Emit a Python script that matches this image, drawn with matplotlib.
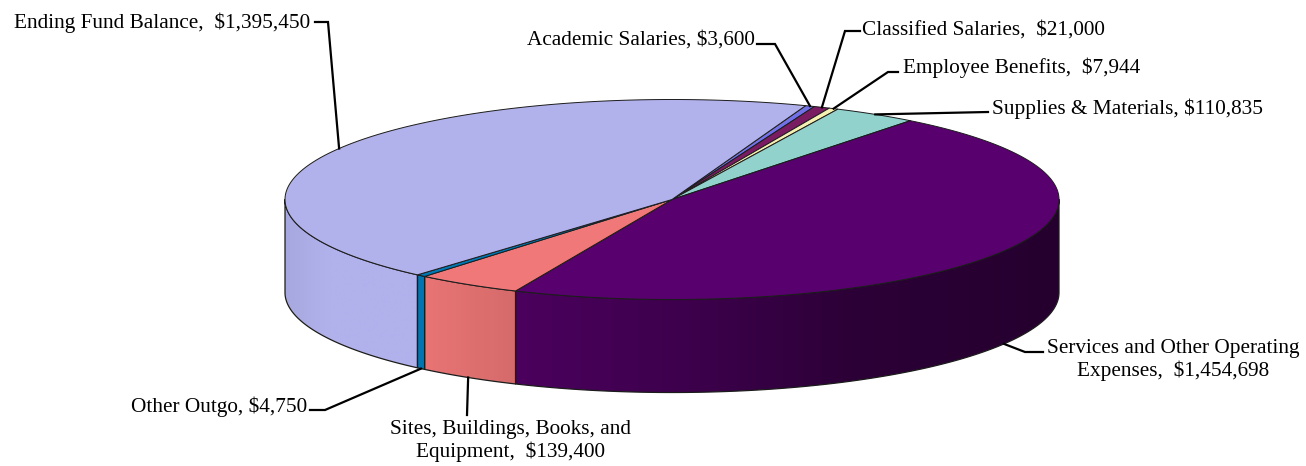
import matplotlib
matplotlib.use("Agg")
import matplotlib.pyplot as plt
import numpy as np
from matplotlib.patches import Polygon

names = ["Academic Salaries, $3,600", "Classified Salaries,  $21,000", "Employee Benefits,  $7,944",
         "Supplies & Materials, $110,835", "Services and Other Operating\nExpenses,  $1,454,698",
         "Sites, Buildings, Books, and\nEquipment,  $139,400", "Other Outgo, $4,750",
         "Ending Fund Balance,  $1,395,450"]
values = [3600, 21000, 7944, 110835, 1454698, 139400, 4750, 1395450]
colors = ["#7272e6", "#7a1c62", "#f6f0b2", "#92d2cd", "#58006e", "#f07878", "#0078b4", "#b1b1ec"]

# leader elbows and text placement, in pixels
elbows = [[(775, 44), (757, 44)], [(845, 31), (860, 31)], [(888, 72), (898, 72)], [(988, 112)],
          [(1025, 352), (1043, 352)], [(467, 415)], [(325, 410), (310, 410)], [(328, 22), (315, 22)]]
text_pos = [(755, 40, "right"), (862, 30, "left"), (903, 68, "left"), (992, 109, "left"),
            (1173, 360, "center"), (510, 441, "center"), (307, 407, "right"), (310, 23, "right")]

cx, cy, rx, ry, depth = 672, 199.5, 387, 100, 93
start = 20.2
min_sweep = 1.4  # very thin slices stay visible, like in the original

plt.rcParams["font.family"] = ["Liberation Serif", "DejaVu Serif"]
fig = plt.figure(figsize=(13.06, 4.66), dpi=100)
ax = fig.add_axes([0, 0, 1, 1])
ax.set_xlim(0, 1306)
ax.set_ylim(466, 0)
ax.axis("off")


def rim(deg, drop=0):
    t = np.radians(deg)
    return cx + rx * np.sin(t), cy - ry * np.cos(t) + drop


def shade(x):
    return np.interp(x, [285, 330, 417, 424, 514, 516, 700, 850, 1059],
                     [.95, 1, 1, .97, .89, .85, .68, .5, .42])


sweeps = np.maximum(np.array(values) / sum(values) * 360, min_sweep)
sweeps = sweeps / sweeps.sum() * 360
edges = start + np.r_[0, np.cumsum(sweeps)]
out = "#1c1c1c"

# sides first
for i, col in enumerate(colors):
    a, b = edges[i], edges[i + 1]
    lo, hi = max(a, 90), min(b, 270)
    if lo >= hi:
        continue
    th = np.linspace(lo, hi, 120)
    xs, ys = rim(th)
    pts = np.r_[np.c_[xs, ys], np.c_[xs, ys + depth][::-1]]
    x0, x1 = xs.min(), xs.max()
    grad = np.linspace(x0, x1, 300)
    base = np.array(matplotlib.colors.to_rgb(col))
    img = np.outer(shade(grad), base).reshape(1, -1, 3)
    im = ax.imshow(img, extent=[x0, x1, 466, 0], aspect="auto", zorder=2, interpolation="bilinear")
    poly = Polygon(pts, closed=True, fc="none", ec=out, lw=0.9, zorder=3, joinstyle="round")
    ax.add_patch(poly)
    im.set_clip_path(poly)
ax.set_xlim(0, 1306)
ax.set_ylim(466, 0)

# top face
for i, col in enumerate(colors):
    th = np.linspace(edges[i], edges[i + 1], 200)
    xs, ys = rim(th)
    pts = np.r_[[[cx, cy]], np.c_[xs, ys]]
    ax.add_patch(Polygon(pts, closed=True, fc=col, ec=out, lw=0.7, zorder=4, joinstyle="round"))

# leaders and labels
for i, name in enumerate(names):
    mid = (edges[i] + edges[i + 1]) / 2 % 360
    front = 90 < mid < 270
    p = rim(mid, depth if front else 0)
    line = [p] + elbows[i]
    ax.plot([q[0] for q in line], [q[1] for q in line], color="black", lw=1.6, zorder=5,
            solid_joinstyle="miter")
    tx, ty, ha = text_pos[i]
    ax.text(tx, ty, name, ha=ha, va="center", fontsize=15.3, color="black", linespacing=1.12, zorder=6)

fig.savefig("out.png", dpi=100)
